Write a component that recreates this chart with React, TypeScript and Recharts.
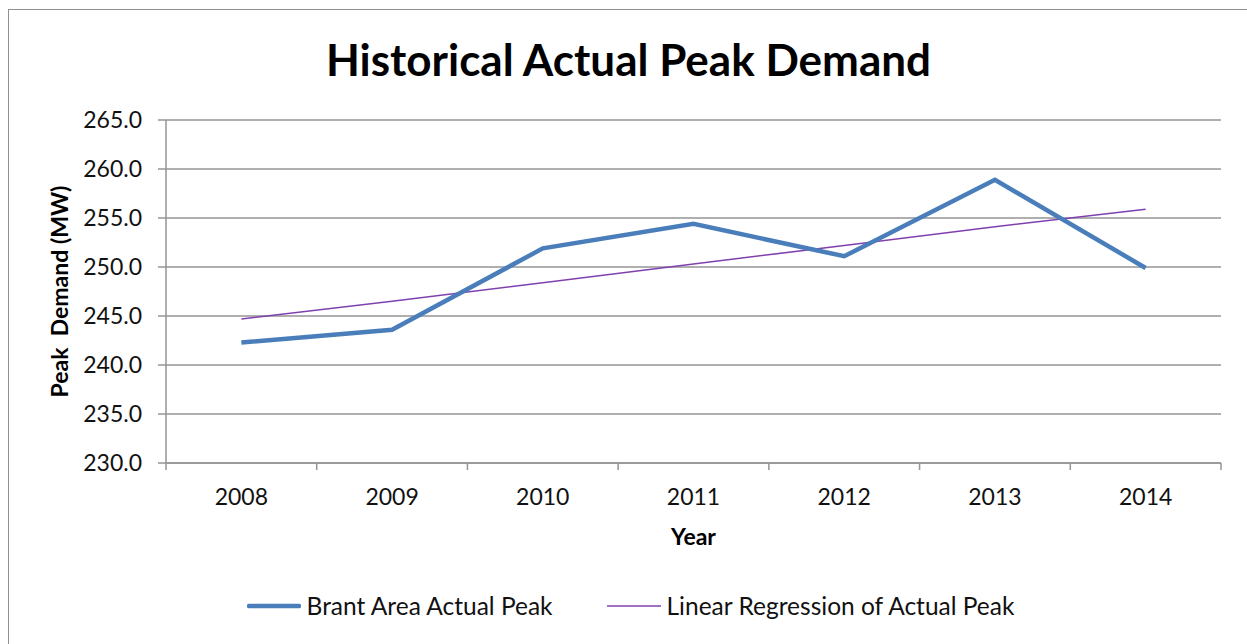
import React from "react";
import { CartesianGrid, Legend, Line, LineChart, XAxis, YAxis } from "recharts";

const years = ["2008", "2009", "2010", "2011", "2012", "2013", "2014"];
const actualPeak = [242.3, 243.6, 251.9, 254.4, 251.1, 258.9, 249.9];
const regression = [244.7, 246.5, 248.4, 250.3, 252.2, 254.1, 255.9];
const yTicks = [230, 235, 240, 245, 250, 255, 260, 265];
// band edges (whole numbers) and band centres (halves) on the category axis
const xTicks = [0, 0.5, 1, 1.5, 2, 2.5, 3, 3.5, 4, 4.5, 5, 5.5, 6, 6.5, 7];

const data = years.map((year, i) => ({
  year,
  pos: i + 0.5,
  actual: actualPeak[i],
  trend: regression[i],
}));

const FONT = "Lato, 'Open Sans', sans-serif";
const GRID = "#959595";
const BLUE = "#4a7ebb";
const PURPLE = "#8040b0";

function XTick({ x, y, payload }: any) {
  const v = payload.value as number;
  if (Number.isInteger(v)) {
    return <line x1={x} x2={x} y1={y} y2={y + 7} stroke={GRID} strokeWidth={1.5} />;
  }
  return (
    <text x={x} y={y + 42} textAnchor="middle" fontSize={23} fill="#111" fontFamily={FONT}>
      {years[Math.floor(v)]}
    </text>
  );
}

function LegendBox() {
  return (
    <div
      style={{
        display: "flex",
        justifyContent: "center",
        gap: 54,
        fontFamily: FONT,
        fontSize: 24.5,
        color: "#111",
        paddingLeft: 14,
      }}
    >
      <span style={{ display: "flex", alignItems: "center", gap: 6 }}>
        <svg width={54} height={10}>
          <line x1={2} x2={52} y1={5} y2={5} stroke={BLUE} strokeWidth={4.5} strokeLinecap="round" />
        </svg>
        Brant Area Actual Peak
      </span>
      <span style={{ display: "flex", alignItems: "center", gap: 6 }}>
        <svg width={54} height={10}>
          <line x1={0} x2={54} y1={5} y2={5} stroke={PURPLE} strokeWidth={1.5} />
        </svg>
        Linear Regression of Actual Peak
      </span>
    </div>
  );
}

export default function App() {
  return (
    <div
      style={{
        position: "absolute",
        left: 0,
        top: 0,
        width: 1247,
        height: 644,
        overflow: "hidden",
        background: "#fff",
      }}
    >
      <div
        style={{
          position: "absolute",
          left: 8,
          top: 9,
          width: 1300,
          height: 700,
          border: "1.5px solid #8f8f8f",
        }}
      />
      <div
        style={{
          position: "absolute",
          left: 0,
          top: 33,
          width: 1257,
          textAlign: "center",
          fontFamily: FONT,
          fontWeight: 700,
          fontSize: 44,
          color: "#000",
        }}
      >
        Historical Actual Peak Demand
      </div>
      <LineChart
        width={1247}
        height={644}
        data={data}
        margin={{ top: 120, right: 26, left: 40, bottom: 121 }}
        style={{ position: "absolute", left: 0, top: 0 }}
      >
        <CartesianGrid vertical={false} stroke={GRID} strokeWidth={1.5} />
        <XAxis
          type="number"
          dataKey="pos"
          domain={[0, 7]}
          ticks={xTicks}
          interval={0}
          height={60}
          tickSize={0}
          tickMargin={0}
          tickLine={false}
          tick={<XTick />}
          axisLine={{ stroke: GRID, strokeWidth: 1.5 }}
          label={({ viewBox }: any) => (
            <text
              x={viewBox.x + viewBox.width / 2}
              y={viewBox.y + 82}
              textAnchor="middle"
              fontSize={23}
              fontWeight={700}
              fill="#000"
              fontFamily={FONT}
            >
              Year
            </text>
          )}
        />
        <YAxis
          width={126}
          domain={[230, 265]}
          ticks={yTicks}
          interval={0}
          tickFormatter={(v: number) => v.toFixed(1)}
          tickSize={8}
          tickMargin={16}
          tick={{ fontSize: 23, fill: "#111", fontFamily: FONT }}
          tickLine={{ stroke: GRID, strokeWidth: 1.5 }}
          axisLine={{ stroke: GRID, strokeWidth: 1.5 }}
          label={({ viewBox }: any) => {
            const cx = viewBox.x + 19;
            const cy = viewBox.y + viewBox.height / 2;
            return (
              <text
                x={cx}
                y={cy}
                transform={`rotate(-90, ${cx}, ${cy})`}
                textAnchor="middle"
                dominantBaseline="central"
                fontSize={23}
                fontWeight={700}
                fill="#000"
                fontFamily={FONT}
                style={{ whiteSpace: "pre" }}
              >
                {"Peak  Demand (MW)"}
              </text>
            );
          }}
        />
        <Legend
          layout="horizontal"
          verticalAlign="middle"
          align="center"
          wrapperStyle={{ left: 0, top: 591, width: 1247 }}
          content={() => <LegendBox />}
        />
        <Line
          type="linear"
          dataKey="trend"
          stroke={PURPLE}
          strokeWidth={1.5}
          dot={false}
          isAnimationActive={false}
        />
        <Line
          type="linear"
          dataKey="actual"
          stroke={BLUE}
          strokeWidth={4.5}
          dot={false}
          isAnimationActive={false}
        />
      </LineChart>
    </div>
  );
}
